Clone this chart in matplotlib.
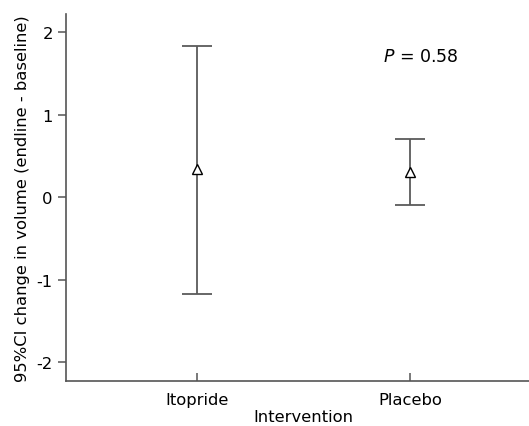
import matplotlib
matplotlib.use("Agg")
import matplotlib.pyplot as plt

groups = ['Itopride', 'Placebo']
means = [0.34, 0.31]
ci_low = [-1.17, -0.09]
ci_high = [1.83, 0.70]
p_text = '= 0.58'

plt.rcParams['font.family'] = ['DejaVu Sans']
plt.rcParams['font.size'] = 11.8

fig = plt.figure(figsize=(5.29, 4.27), dpi=100)
ax = fig.add_axes([0.1248, 0.1047, 0.8752, 0.8603])

x = [1, 2]
err = [[m - lo for m, lo in zip(means, ci_low)], [hi - m for m, hi in zip(means, ci_high)]]
ax.errorbar(x, means, yerr=err, fmt='none', ecolor='#5a5a5a', elinewidth=1.3,
            capsize=10.5, capthick=1.3)
ax.plot(x, means, linestyle='none', marker='^', markersize=7,
        markerfacecolor='white', markeredgecolor='black', markeredgewidth=1.0)

ax.set_xlim(0.384, 2.56)
ax.set_ylim(-2.23, 2.22)
ax.set_xticks(x)
ax.set_xticklabels(groups)
ax.set_yticks([-2, -1, 0, 1, 2])
ax.set_yticklabels(['-2', '-1', '0', '1', '2'])

ax.set_xlabel('Intervention', labelpad=3)
ax.xaxis.set_label_coords(0.512, -0.075)
ax.set_ylabel('95%CI change in volume (endline - baseline)', labelpad=5)

for s in ['top', 'right']:
    ax.spines[s].set_visible(False)
for s in ['left', 'bottom']:
    ax.spines[s].set_color('#555555')
    ax.spines[s].set_linewidth(1.2)
ax.tick_params(axis='y', direction='out', length=6, color='#555555', width=1.1)
ax.tick_params(axis='x', direction='in', length=6, color='#555555', width=1.1, pad=8)

ax.text(2.05, 1.71, '$P$ ' + p_text, ha='center', va='center', fontsize=12.5)

fig.savefig('out.png', dpi=100)
